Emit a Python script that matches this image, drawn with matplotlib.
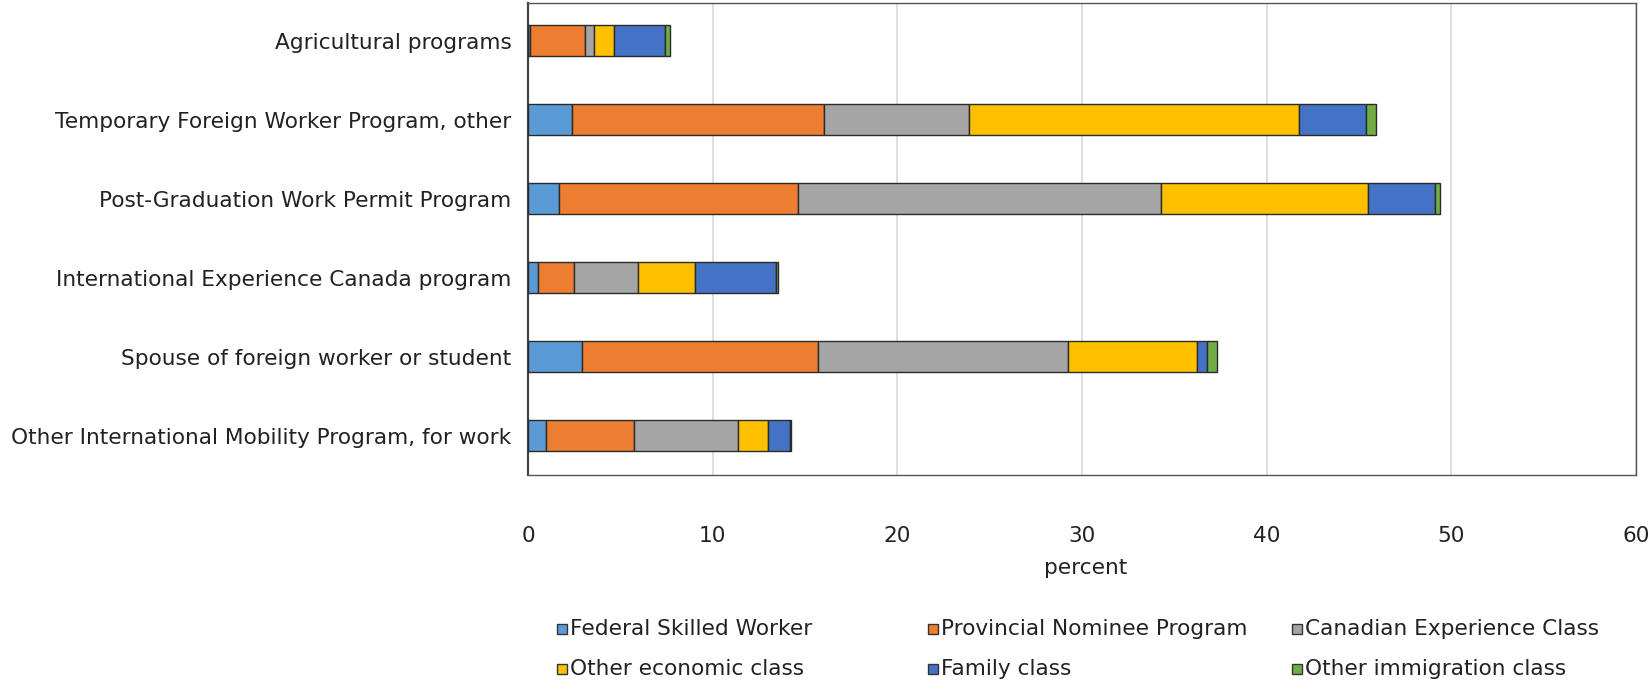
import numpy as np
import matplotlib.pyplot as plt
from matplotlib.patches import Rectangle

plt.rcParams['font.family'] = ['DejaVu Sans']

# ============================================================
# Data (percent)
# ============================================================
programs = [
    'Agricultural programs',
    'Temporary Foreign Worker Program, other',
    'Post-Graduation Work Permit Program',
    'International Experience Canada program',
    'Spouse of foreign worker or student',
    'Other International Mobility Program, for work',
]
series = ['Federal Skilled Worker', 'Provincial Nominee Program',
          'Canadian Experience Class', 'Other economic class',
          'Family class', 'Other immigration class']

federal_skilled  = [0.10, 2.39, 1.68, 0.54, 2.95, 0.96]
provincial_nom   = [3.00, 13.65, 12.92, 1.96, 12.75, 4.79]
canadian_exp     = [0.45, 7.86, 19.70, 3.43, 13.53, 5.64]
other_economic   = [1.11, 17.83, 11.20, 3.11, 7.00, 1.63]
family_class     = [2.78, 3.67, 3.63, 4.40, 0.53, 1.18]
other_immigrant  = [0.24, 0.50, 0.23, 0.12, 0.54, 0.05]

values = [federal_skilled, provincial_nom, canadian_exp,
          other_economic, family_class, other_immigrant]
colors = ['#5B9BD5', '#ED7D31', '#A5A5A5', '#FFC000', '#4472C4', '#70AD47']

FS = 15.6

# ============================================================
# Plot
# ============================================================
W, H = 1649, 683
fig = plt.figure(figsize=(W / 100, H / 100), dpi=100)
ax = fig.add_axes([528 / W, 1 - 475 / H, (1636 - 528) / W, (475 - 3) / H])

y = np.arange(len(programs))
left = np.zeros(len(programs))
for vals, col, name in zip(values, colors, series):
    ax.barh(y, vals, left=left, height=0.39, color=col,
            edgecolor='#2b2b2b', linewidth=1.0, label=name, zorder=3)
    left += np.array(vals)

ax.set_ylim(5.5, -0.48)
ax.set_xlim(0, 60)
ax.set_xticks(np.arange(0, 61, 10))
ax.set_yticks(y)
ax.set_yticklabels(programs, fontsize=FS, color='#222222')
ax.tick_params(axis='x', labelsize=FS, colors='#222222', length=0, pad=37)
ax.tick_params(axis='y', length=0, pad=12)
ax.grid(axis='x', color='#d9d9d9', linewidth=1.2, zorder=0)
for s in ax.spines.values():
    s.set_color('#555555')
    s.set_linewidth(1.0)
ax.spines['left'].set_color('#444444')
ax.spines['left'].set_linewidth(1.6)

fig.text(1086 / W, 1 - 568 / H, 'percent',
         ha='center', va='center', fontsize=FS, color='#222222')

# Legend, laid out by hand in three columns
col_x = [557, 928, 1292]
row_y = [629, 669]
for i, (name, col) in enumerate(zip(series, colors)):
    cx = col_x[i % 3]
    cy = row_y[i // 3]
    fig.patches.append(Rectangle((cx / W, 1 - (cy + 5) / H), 10 / W, 10 / H,
                                 transform=fig.transFigure, facecolor=col,
                                 edgecolor='#333333', linewidth=1.0))
    fig.text((cx + 13) / W, 1 - cy / H, name, ha='left', va='center',
             fontsize=FS, color='#222222')

plt.savefig('out.png', dpi=100)
